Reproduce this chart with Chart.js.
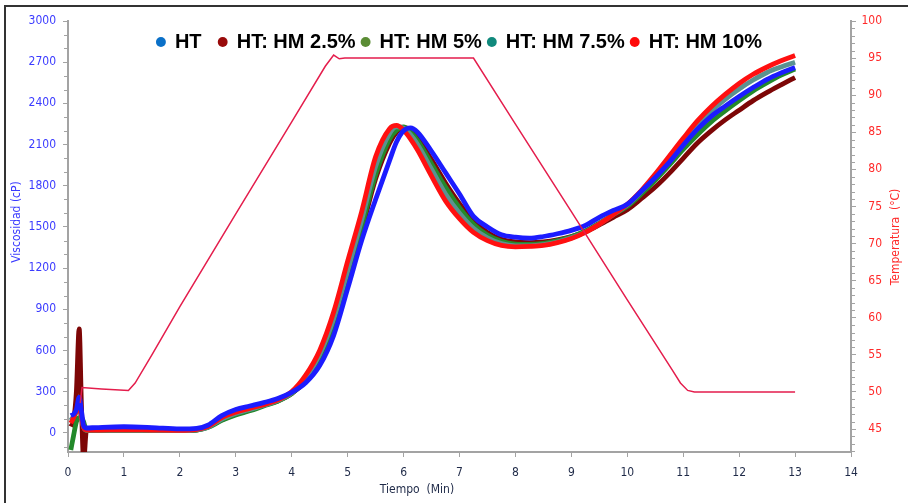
<!DOCTYPE html>
<html lang="es">
<head>
<meta charset="UTF-8">
<title>Viscosidad y temperatura</title>
<script src="https://cdn.jsdelivr.net/npm/chart.js"></script>
<style>
    body { margin: 0; background: #fff; }
    #marco { position: relative; width: 908px; height: 503px; }
    #marco::before {
        content: '';
        position: absolute;
        left: 4px; top: 5px; right: 0; bottom: 0;
        border-left: 2px solid #333;
        border-top: 2px solid #333;
        pointer-events: none;
    }
    canvas { display: block; }
</style>
</head>
<body>
<div id="marco"><canvas id="grafico" width="908" height="503"></canvas></div>
<script>
// tiempo (min) comun para las curvas de viscosidad
const tiempo = [0.05, 0.1, 0.15, 0.2, 0.24, 0.28, 0.33, 0.5, 1, 1.5, 2, 2.3,
    2.5, 2.75, 3, 3.25, 3.5, 3.75, 4, 4.25, 4.5, 4.75, 5, 5.25, 5.5, 5.75, 5.875,
    6, 6.125, 6.25, 6.5, 6.75, 7, 7.25, 7.5, 7.75, 8, 8.25, 8.5, 8.75, 9, 9.25,
    9.5, 9.75, 10, 10.25, 10.5, 10.75, 11, 11.25, 11.5, 11.75, 12, 12.25,
    12.5, 12.75, 13];

// viscosidad (cP)
const ht = [125, 135, 170, 260, 160, 50, 35, 38, 44, 38, 28, 32,
    55, 125, 170, 195, 220, 250, 295, 365, 490, 710, 1050, 1400, 1700, 1985, 2120,
    2200, 2222, 2190, 2050, 1895, 1740, 1577, 1500, 1443, 1425, 1418, 1430, 1450, 1475, 1510,
    1570, 1620, 1665, 1760, 1860, 1970, 2095, 2210, 2305, 2380, 2450, 2515,
    2575, 2622, 2662];
const hm25 = [45, 90, 300, 757, 200, -200, 15, 18, 20, 18, 16, 20,
    42, 95, 135, 165, 200, 232, 285, 380, 530, 770, 1100, 1470, 1850, 2110, 2190,
    2225, 2205, 2150, 1990, 1820, 1670, 1545, 1460, 1410, 1390, 1385, 1390, 1405, 1430, 1465,
    1515, 1570, 1625, 1705, 1790, 1890, 2000, 2110, 2200, 2280, 2350, 2420,
    2480, 2535, 2588];
const hm5 = [-125, -20, 80, 110, 110, 80, 15, 18, 18, 16, 15, 20,
    38, 90, 130, 160, 195, 230, 285, 385, 540, 790, 1130, 1500, 1880, 2140, 2205,
    2228, 2190, 2130, 1960, 1790, 1640, 1520, 1440, 1395, 1375, 1372, 1380, 1400, 1428, 1470,
    1528, 1590, 1650, 1740, 1840, 1950, 2065, 2170, 2265, 2345, 2420, 2490,
    2550, 2605, 2650];
const hm75 = [90, 120, 150, 180, 110, 40, 20, 20, 20, 18, 16, 22,
    40, 100, 140, 170, 200, 235, 290, 400, 570, 830, 1180, 1550, 1940, 2180, 2228,
    2220, 2170, 2100, 1920, 1740, 1600, 1490, 1420, 1378, 1362, 1362, 1370, 1390, 1420, 1462,
    1522, 1590, 1660, 1758, 1870, 1995, 2125, 2245, 2345, 2430, 2505, 2570,
    2625, 2665, 2700];
const hm10 = [70, 110, 160, 200, 120, 40, 20, 20, 22, 20, 18, 25,
    45, 110, 150, 178, 205, 240, 300, 420, 600, 880, 1250, 1610, 2010, 2215, 2239,
    2205, 2140, 2060, 1870, 1690, 1560, 1460, 1400, 1365, 1355, 1358, 1365, 1385, 1415, 1460,
    1520, 1590, 1665, 1765, 1885, 2015, 2145, 2270, 2375, 2465, 2545, 2612,
    2665, 2710, 2748];

// perfil de temperatura (°C)
const tiempoTemp = [0.22, 0.25, 0.6, 1.08, 1.2, 1.5, 2, 3, 4, 4.6, 4.75, 4.85,
    4.95, 6, 7.25, 8, 9, 10, 10.8, 10.95, 11.08, 11.2, 12, 13];
const temperatura = [48.5, 50.6, 50.4, 50.2, 51.2, 55, 61.5, 74, 86.4, 93.9, 95.4, 94.9,
    95, 95, 95, 86.1, 74.3, 62.4, 53, 51.2, 50.2, 50, 50, 50];

const ticksViscosidad = [0, 300, 600, 900, 1200, 1500, 1800, 2100, 2400, 2700, 3000];
const ticksTemperatura = [45, 50, 55, 60, 65, 70, 75, 80, 85, 90, 95, 100];
const ticksTiempo = [0, 1, 2, 3, 4, 5, 6, 7, 8, 9, 10, 11, 12, 13, 14];

const nombres = ['HT', 'HT: HM 2.5%', 'HT: HM 5%', 'HT: HM 7.5%', 'HT: HM 10%'];
const series = [ht, hm25, hm5, hm75, hm10];
const coloresLinea = ['#1c1cff', '#7d0606', '#23892a', '#5a9290', '#ff1010'];
const coloresLeyenda = ['#0a70c8', '#990a0a', '#5a8c34', '#10897c', '#ff0a0a'];
const ordenDibujo = [1, 5, 4, 3, 2]; // HT encima

const fuente = '"DejaVu Sans Condensed", "Liberation Sans", sans-serif';
const gris = '#a3a3a3';

// la leyenda va dentro del area, en una sola fila centrada
const leyendaHorizontal = {
    id: 'leyendaHorizontal',
    afterInit(chart) {
        if (chart.legend) chart.legend.isHorizontal = () => true;
    },
    afterLayout(chart) {
        const l = chart.legend, a = chart.chartArea;
        if (!l) return;
        l.left = a.left;
        l.right = a.right;
        l.top = a.top + 5;
    }
};

const marcasMenores = {
    id: 'marcasMenores',
    afterDraw(chart) {
        const ctx = chart.ctx;
        const y = chart.scales.y, y1 = chart.scales.y1;
        ctx.save();
        ctx.strokeStyle = gris;
        ctx.lineWidth = 1;
        ctx.beginPath();
        for (let v = -100; v <= 3000; v += 100) {
            if (v % 300 === 0) continue;
            const py = Math.round(y.getPixelForValue(v)) + 0.5;
            ctx.moveTo(y.right - 4, py);
            ctx.lineTo(y.right, py);
        }
        for (let v = 42; v <= 100; v += 1) {
            if (v % 5 === 0) continue;
            const py = Math.round(y1.getPixelForValue(v)) + 0.5;
            ctx.moveTo(y1.left, py);
            ctx.lineTo(y1.left + 4, py);
        }
        ctx.stroke();
        ctx.restore();
    }
};

const titulosEjes = {
    id: 'titulosEjes',
    afterDraw(chart) {
        const { ctx, chartArea } = chart;
        ctx.save();
        ctx.font = '12px ' + fuente;
        ctx.textAlign = 'center';
        ctx.textBaseline = 'middle';

        ctx.fillStyle = '#3b3bff';
        ctx.save();
        ctx.translate(chartArea.left - 51, 222);
        ctx.rotate(-Math.PI / 2);
        ctx.fillText('Viscosidad (cP)', 0, 0);
        ctx.restore();

        ctx.fillStyle = '#ff2a2a';
        ctx.save();
        ctx.translate(chartArea.right + 45, 237);
        ctx.rotate(-Math.PI / 2);
        ctx.fillText('Temperatura  (°C)', 0, 0);
        ctx.restore();

        ctx.fillStyle = '#1f2a48';
        ctx.fillText('Tiempo  (Min)', 417, chartArea.bottom + 38);
        ctx.restore();
    }
};

const conjuntos = series.map((s, i) => ({
    label: nombres[i],
    data: tiempo.map((t, k) => ({ x: t, y: s[k] })),
    borderColor: coloresLinea[i],
    backgroundColor: coloresLinea[i],
    borderWidth: 4.8,
    pointRadius: 0,
    tension: 0.4,
    cubicInterpolationMode: 'monotone',
    yAxisID: 'y',
    order: ordenDibujo[i]
}));

conjuntos.push({
    label: 'Temperatura',
    data: tiempoTemp.map((t, k) => ({ x: t, y: temperatura[k] })),
    borderColor: '#e41d4c',
    borderWidth: 1.5,
    pointRadius: 0,
    tension: 0,
    yAxisID: 'y1',
    order: 0
});

new Chart(document.getElementById('grafico'), {
    type: 'line',
    data: { datasets: conjuntos },
    options: {
        responsive: false,
        animation: false,
        layout: { padding: { left: 18, right: 26, top: 21, bottom: 0 } },
        plugins: {
            tooltip: { enabled: false },
            legend: {
                position: 'chartArea',
                align: 'center',
                labels: {
                    usePointStyle: true,
                    boxWidth: 8,
                    boxHeight: 7,
                    padding: 6,
                    color: '#000',
                    font: { family: '"Liberation Sans", Arial, sans-serif', size: 20, weight: 'bold' },
                    generateLabels: () => nombres.map((n, i) => ({
                        text: i === 0 ? n + '  ' : n,
                        fillStyle: coloresLeyenda[i],
                        strokeStyle: coloresLeyenda[i],
                        lineWidth: 0,
                        pointStyle: 'circle',
                        hidden: false,
                        datasetIndex: i,
                        fontColor: '#000'
                    }))
                }
            }
        },
        scales: {
            x: {
                type: 'linear',
                min: 0,
                max: 14,
                afterBuildTicks: s => { s.ticks = ticksTiempo.map(v => ({ value: v })); },
                afterFit: s => { s.height = 51; },
                grid: { drawOnChartArea: false, drawTicks: true, tickLength: 5, tickColor: gris },
                border: { display: true, color: gris, width: 2 },
                ticks: { color: '#1f2a48', padding: 9, maxRotation: 0, font: { family: fuente, size: 12 } }
            },
            y: {
                position: 'left',
                min: -140,
                max: 3000,
                afterBuildTicks: s => { s.ticks = ticksViscosidad.map(v => ({ value: v })); },
                afterFit: s => { s.width = 50; },
                grid: { drawOnChartArea: false, drawTicks: true, tickLength: 5, tickColor: gris },
                border: { display: true, color: gris, width: 2 },
                ticks: { color: '#3b3bff', padding: 7, font: { family: fuente, size: 12 },
                         callback: v => String(v) }
            },
            y1: {
                position: 'right',
                min: 41.9,
                max: 100,
                afterBuildTicks: s => { s.ticks = ticksTemperatura.map(v => ({ value: v })); },
                afterFit: s => { s.width = 31; },
                grid: { drawOnChartArea: false, drawTicks: true, tickLength: 5, tickColor: gris },
                border: { display: true, color: gris, width: 2 },
                ticks: { color: '#ff2a2a', padding: 7, crossAlign: 'far', font: { family: fuente, size: 12 } }
            }
        }
    },
    plugins: [leyendaHorizontal, marcasMenores, titulosEjes]
});
</script>
</body>
</html>
